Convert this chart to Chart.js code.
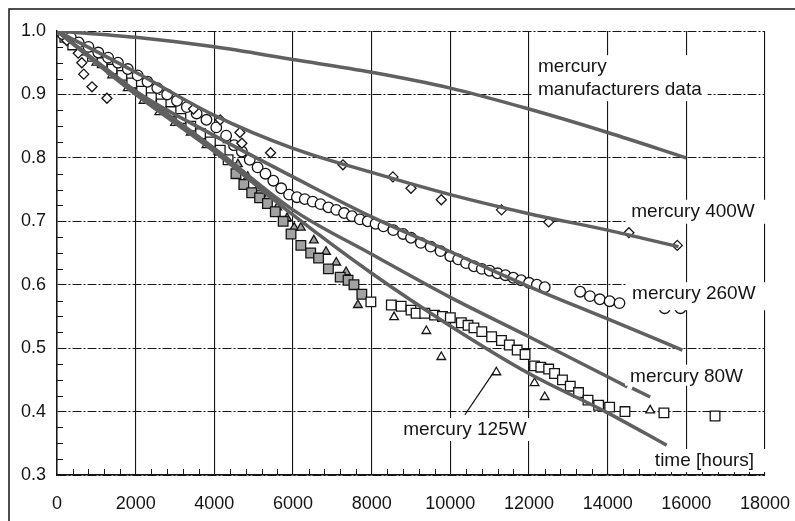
<!DOCTYPE html>
<html>
<head>
<meta charset="utf-8">
<script src="https://cdn.jsdelivr.net/npm/chart.js@4.4.1/dist/chart.umd.min.js"></script>
<style>
  html, body { margin: 0; padding: 0; background: #fff; }
  canvas { display: block; }
</style>
</head>
<body>
<canvas id="chart" width="795" height="521"></canvas>
<script>
// fitted curves
const manufHours = [0, 2000, 4000, 6000, 8000, 10000, 12000, 14000, 16000];
const manufRel   = [1.0, 0.99, 0.975, 0.955, 0.935, 0.91, 0.877, 0.84, 0.8];
const fit400Hours = [0, 2000, 4000, 6000, 8000, 10000, 12000, 14000, 15800];
const fit400Rel   = [1.0, 0.935, 0.867, 0.815, 0.777, 0.742, 0.712, 0.686, 0.66];
const fit260Hours = [0, 2000, 4000, 6000, 8000, 10000, 12000, 14000, 15900];
const fit260Rel   = [1.0, 0.905, 0.835, 0.77, 0.707, 0.652, 0.597, 0.546, 0.497];
const fit80Hours = [0, 2000, 4000, 6000, 8000, 10000, 12000, 14000, 14500];
const fit80Rel   = [1.0, 0.905, 0.815, 0.718, 0.648, 0.58, 0.518, 0.455, 0.439];
const fit125Hours = [0, 2000, 4000, 6000, 8000, 10000, 12000, 14000, 15500];
const fit125Rel   = [1.0, 0.9, 0.81, 0.71, 0.618, 0.535, 0.46, 0.398, 0.347];
const arrow125Hours = [10370, 11090];
const arrow125Rel   = [0.395, 0.461];
const tail80Hours = [14620, 15080];
const tail80Rel   = [0.437, 0.423];

// measured points
const w400Hours = [0, 250, 540, 630, 680, 890, 1270, 3470, 4150, 4650, 4700, 5430, 7270, 8540, 9000, 9770, 11300, 12500, 14540, 15770];
const w400Rel   = [1.0, 0.985, 0.965, 0.95, 0.932, 0.912, 0.894, 0.877, 0.86, 0.84, 0.823, 0.808, 0.789, 0.77, 0.752, 0.734, 0.718, 0.699, 0.682, 0.662];

const w260Hours = [0, 150, 350, 550, 800, 1050, 1300, 1550, 1800, 2050, 2300, 2550, 2800, 3050, 3300, 3550, 3800, 4050, 4300, 4500,
                   4700, 4900, 5100, 5300, 5500, 5700, 5900, 6100, 6300, 6500, 6700, 6900, 7100, 7300, 7500, 7700, 7900, 8100, 8300, 8550,
                   8800, 9000, 9250, 9500, 9750, 10000, 10200, 10400, 10600, 10800, 11000, 11200, 11400, 11600, 11800, 12000, 12200, 12400,
                   13300, 13550, 13800, 14050, 14300, 15450, 15850];
const w260Rel   = [1.0, 0.995, 0.99, 0.982, 0.975, 0.966, 0.958, 0.95, 0.94, 0.93, 0.92, 0.91, 0.9, 0.89, 0.88, 0.87, 0.86, 0.848, 0.835, 0.82,
                   0.81, 0.797, 0.785, 0.775, 0.764, 0.752, 0.742, 0.738, 0.735, 0.731, 0.727, 0.722, 0.718, 0.713, 0.708, 0.703, 0.7, 0.696, 0.692, 0.686,
                   0.68, 0.674, 0.666, 0.66, 0.653, 0.645, 0.64, 0.634, 0.629, 0.625, 0.622, 0.618, 0.615, 0.611, 0.607, 0.603, 0.6, 0.596,
                   0.589, 0.582, 0.577, 0.574, 0.571, 0.563, 0.563];

const w80Hours = [0, 200, 400, 650, 900, 1150, 1400, 1650, 1900, 2150, 2400, 2650, 2900, 3150, 3400, 3650, 3900, 4150, 4350, 4550,
                  4750, 4950, 5150, 5350, 5550, 5750, 5950, 6200, 6450, 6650, 6900, 7200, 7400, 7550, 7750, 7980, 8500, 8750, 9000, 9130,
                  9350, 9600, 9800, 10000, 10280, 10450, 10600, 10800, 11050, 11300, 11500, 11700, 11900, 12140, 12300, 12500, 12650, 12850,
                  13050, 13260, 13500, 13770, 14050, 14440, 15430, 16730];
const w80Rel   = [1.0, 0.99, 0.978, 0.97, 0.96, 0.95, 0.94, 0.93, 0.918, 0.905, 0.895, 0.885, 0.873, 0.862, 0.85, 0.838, 0.825, 0.812, 0.797, 0.775,
                  0.758, 0.745, 0.737, 0.728, 0.715, 0.7, 0.68, 0.662, 0.65, 0.642, 0.625, 0.612, 0.607, 0.6, 0.585, 0.573, 0.568, 0.566, 0.56, 0.555,
                  0.555, 0.552, 0.55, 0.548, 0.54, 0.536, 0.532, 0.526, 0.518, 0.512, 0.505, 0.497, 0.49, 0.472, 0.47, 0.467, 0.46, 0.45,
                  0.44, 0.43, 0.418, 0.41, 0.407, 0.4, 0.398, 0.393];

const w125Hours = [0, 300, 600, 1000, 1400, 1800, 2200, 2600, 3000, 3400, 3800, 4100, 4340, 4600, 4850, 5100, 5350, 5600, 5850, 6030,
                   6200, 6530, 6840, 7100, 7350, 7650, 8570, 9390, 9770, 11170, 12140, 12400, 15080];
const w125Rel   = [1.0, 0.985, 0.968, 0.95, 0.93, 0.91, 0.89, 0.872, 0.855, 0.84, 0.82, 0.81, 0.828, 0.79, 0.77, 0.752, 0.738, 0.722, 0.705, 0.69,
                   0.69, 0.67, 0.652, 0.635, 0.62, 0.568, 0.549, 0.527, 0.486, 0.462, 0.445, 0.423, 0.402];

const xTicks = [0, 2000, 4000, 6000, 8000, 10000, 12000, 14000, 16000, 18000];
const yTicks = [0.3, 0.4, 0.5, 0.6, 0.7, 0.8, 0.9, 1.0];

const notes = [
  { lines: ['mercury', 'manufacturers data'], x: 12230, y: 0.943, toEdge: false, below: 11 },
  { lines: ['mercury 400W'], x: 14600, y: 0.715, toEdge: true, below: 12 },
  { lines: ['mercury 260W'], x: 14620, y: 0.585, toEdge: true, below: 16 },
  { lines: ['mercury 80W'], x: 14570, y: 0.455, toEdge: false, below: 9 },
  { lines: ['mercury 125W'], x: 8800, y: 0.371, toEdge: false, below: 11 },
  { lines: ['time [hours]'], x: 15200, y: 0.322, toEdge: true, below: 11 }
];

const pts = (xs, ys) => xs.map((x, i) => ({ x, y: ys[i] }));
const FONT = '"Liberation Sans", Arial, sans-serif';
const INK = '#151515';

const fitLine = (data, width) => ({
  type: 'line', data, showLine: true, borderColor: '#606060', borderWidth: width || 3.5,
  pointRadius: 0, tension: 0.3, cubicInterpolationMode: 'monotone', fill: false, order: 0
});
const dense = c => (c.raw && c.raw.x > 4400 && c.raw.x < 7900) ? '#a2a2a2' : '#fff';
const marks = (data, style, r, bg) => ({
  type: 'scatter', data, pointStyle: style, pointRadius: r, pointBorderColor: INK,
  pointBorderWidth: 1.3, pointBackgroundColor: bg || '#fff', showLine: false, order: 1
});

const decor = {
  id: 'decor',
  beforeDraw(chart) {
    const ctx = chart.ctx;
    ctx.save();
    ctx.fillStyle = '#fff';
    ctx.fillRect(0, 0, chart.width, chart.height);
    ctx.strokeStyle = INK;
    ctx.lineWidth = 1.5;
    ctx.beginPath();
    ctx.moveTo(9, chart.height);
    ctx.lineTo(9, 9);
    ctx.lineTo(chart.width, 9);
    ctx.stroke();
    ctx.restore();
  },
  afterDraw(chart) {
    const { ctx, chartArea: a } = chart;
    const sx = chart.scales.x, sy = chart.scales.y;
    ctx.save();
    ctx.strokeStyle = INK;
    ctx.lineWidth = 1;
    ctx.beginPath();
    for (let h = 400; h < 18000; h += 400) {
      if (h % 2000 === 0) continue;
      const px = Math.round(sx.getPixelForValue(h)) + 0.5;
      ctx.moveTo(px, a.bottom); ctx.lineTo(px, a.bottom - 6);
    }
    for (let k = 1; k < 28; k++) {
      if (k % 4 === 0) continue;
      const py = Math.round(sy.getPixelForValue(0.3 + k * 0.025)) + 0.5;
      ctx.moveTo(a.left, py); ctx.lineTo(a.left + 6, py);
    }
    ctx.stroke();

    ctx.font = '19px ' + FONT;
    ctx.textBaseline = 'middle';
    ctx.textAlign = 'left';
    const lh = 23;
    notes.forEach(n => {
      const px = sx.getPixelForValue(n.x);
      const py = sy.getPixelForValue(n.y);
      const w = Math.max(...n.lines.map(t => ctx.measureText(t).width));
      const right = n.toEdge ? a.right + 5 : px + w + 6;
      const top = py - 12;
      const bottom = py + (n.lines.length - 1) * lh + n.below;
      ctx.fillStyle = '#fff';
      ctx.fillRect(px - 5, top, right - (px - 5), bottom - top);
      ctx.fillStyle = INK;
      n.lines.forEach((t, i) => ctx.fillText(t, px, py + i * lh));
    });
    ctx.restore();
  }
};

new Chart(document.getElementById('chart'), {
  type: 'scatter',
  data: {
    datasets: [
      fitLine(pts(manufHours, manufRel)),
      fitLine(pts(fit400Hours, fit400Rel)),
      fitLine(pts(fit260Hours, fit260Rel)),
      fitLine(pts(fit80Hours, fit80Rel)),
      fitLine(pts(fit125Hours, fit125Rel)),
      fitLine(pts(tail80Hours, tail80Rel), 3.5),
      Object.assign(fitLine(pts(arrow125Hours, arrow125Rel), 1.3), { borderColor: INK, tension: 0 }),
      marks(pts(w400Hours, w400Rel), 'rectRot', 5),
      marks(pts(w260Hours, w260Rel), 'circle', 5.3),
      marks(pts(w80Hours, w80Rel), 'rect', 6.8, dense),
      marks(pts(w125Hours, w125Rel), 'triangle', 5, dense)
    ]
  },
  options: {
    responsive: false,
    animation: false,
    events: [],
    layout: { padding: { top: 31, right: 30, left: 0, bottom: 0 } },
    plugins: { legend: { display: false }, tooltip: { enabled: false } },
    scales: {
      x: {
        type: 'linear', min: 0, max: 18000,
        afterBuildTicks: s => { s.ticks = xTicks.map(v => ({ value: v })); },
        afterFit: s => { s.height = 46; s.paddingLeft = 0; s.paddingRight = 0; },
        grid: { color: INK, lineWidth: 1.1, drawTicks: false },
        border: { display: true, color: INK, width: 1.5 },
        ticks: { color: INK, padding: 18, maxRotation: 0, font: { family: FONT, size: 18 }, callback: v => String(v) }
      },
      y: {
        type: 'linear', min: 0.3, max: 1.0,
        afterBuildTicks: s => { s.ticks = yTicks.map(v => ({ value: v })); },
        afterFit: s => { s.width = 57; },
        grid: { color: INK, lineWidth: 1, drawTicks: false },
        border: { display: true, color: INK, width: 1.5, dash: [9, 2, 2, 2] },
        ticks: { color: INK, padding: 11, font: { family: FONT, size: 18 }, callback: v => v.toFixed(1) }
      }
    }
  },
  plugins: [decor]
});
</script>
</body>
</html>
